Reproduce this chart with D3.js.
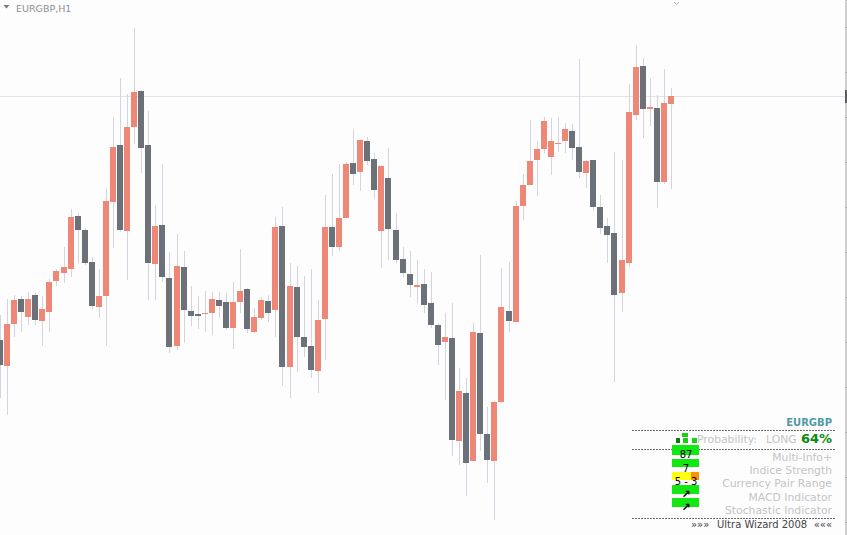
<!DOCTYPE html>
<html><head><meta charset="utf-8">
<script src="https://cdn.jsdelivr.net/npm/d3@7"></script>
<style>html,body{margin:0;padding:0;background:#fff;overflow:hidden}</style>
</head><body>
<svg id="chart" width="847" height="535"></svg>
<script>
// EURGBP H1 candles (price values)
const open  = [0.8660,0.8634,0.8676,0.8701,0.8683,0.8705,0.8679,0.8688,0.8719,0.8727,0.8731,0.8784,0.8770,0.8738,0.8693,0.8704,0.8798,0.8855,0.8769,0.8873,0.8909,0.8855,0.8736,0.8775,0.8722,0.8654,0.8733,0.8689,0.8686,0.8686,0.8687,0.8700,0.8698,0.8672,0.8698,0.8711,0.8668,0.8682,0.8699,0.8690,0.8774,0.8633,0.8713,0.8663,0.8654,0.8629,0.8681,0.8773,0.8753,0.8782,0.8837,0.8828,0.8859,0.8841,0.8769,0.8822,0.8770,0.8741,0.8726,0.8713,0.8716,0.8697,0.8675,0.8658,0.8662,0.8559,0.8607,0.8539,0.8667,0.8566,0.8539,0.8598,0.8689,0.8678,0.8794,0.8815,0.8840,0.8851,0.8843,0.8856,0.8859,0.8869,0.8853,0.8827,0.8840,0.8793,0.8774,0.8767,0.8707,0.8737,0.8885,0.8934,0.8891,0.8892,0.8818,0.8896];
const high  = [0.8685,0.8701,0.8705,0.8704,0.8708,0.8707,0.8704,0.8721,0.8731,0.8753,0.8791,0.8787,0.8772,0.8743,0.8731,0.8811,0.8883,0.8922,0.8906,0.8972,0.8910,0.8889,0.8795,0.8836,0.8748,0.8766,0.8749,0.8714,0.8704,0.8709,0.8708,0.8708,0.8707,0.8718,0.8751,0.8712,0.8692,0.8703,0.8705,0.8783,0.8793,0.8737,0.8734,0.8724,0.8731,0.8700,0.8805,0.8826,0.8836,0.8838,0.8871,0.8861,0.8863,0.8847,0.8835,0.8852,0.8787,0.8753,0.8749,0.8740,0.8731,0.8728,0.8677,0.8687,0.8697,0.8632,0.8622,0.8677,0.8745,0.8593,0.8599,0.8732,0.8738,0.8799,0.8826,0.8880,0.8859,0.8883,0.8882,0.8883,0.8877,0.8876,0.8941,0.8840,0.8840,0.8805,0.8782,0.8848,0.8840,0.8916,0.8955,0.8942,0.8922,0.8905,0.8931,0.8912];
const low   = [0.8602,0.8585,0.8663,0.8668,0.8675,0.8675,0.8654,0.8668,0.8714,0.8717,0.8723,0.8737,0.8735,0.8691,0.8682,0.8654,0.8752,0.8768,0.8720,0.8856,0.8827,0.8700,0.8700,0.8718,0.8647,0.8650,0.8657,0.8674,0.8671,0.8668,0.8665,0.8682,0.8670,0.8651,0.8687,0.8667,0.8667,0.8680,0.8678,0.8663,0.8614,0.8602,0.8628,0.8643,0.8622,0.8607,0.8640,0.8744,0.8749,0.8782,0.8815,0.8809,0.8835,0.8801,0.8732,0.8740,0.8737,0.8723,0.8703,0.8697,0.8687,0.8672,0.8635,0.8600,0.8544,0.8535,0.8504,0.8538,0.8549,0.8517,0.8480,0.8597,0.8668,0.8678,0.8780,0.8815,0.8804,0.8847,0.8825,0.8848,0.8847,0.8840,0.8822,0.8812,0.8789,0.8766,0.8737,0.8618,0.8688,0.8733,0.8880,0.8862,0.8874,0.8792,0.8816,0.8811];
const close = [0.8635,0.8676,0.8700,0.8688,0.8701,0.8680,0.8691,0.8718,0.8729,0.8733,0.8783,0.8770,0.8737,0.8694,0.8704,0.8799,0.8853,0.8770,0.8873,0.8908,0.8852,0.8737,0.8774,0.8723,0.8653,0.8734,0.8690,0.8684,0.8684,0.8687,0.8701,0.8694,0.8672,0.8698,0.8709,0.8671,0.8683,0.8700,0.8687,0.8773,0.8633,0.8714,0.8663,0.8653,0.8630,0.8680,0.8773,0.8753,0.8782,0.8836,0.8826,0.8860,0.8839,0.8810,0.8834,0.8771,0.8740,0.8727,0.8715,0.8715,0.8695,0.8675,0.8655,0.8663,0.8560,0.8609,0.8537,0.8668,0.8566,0.8540,0.8598,0.8693,0.8679,0.8794,0.8815,0.8839,0.8851,0.8879,0.8859,0.8857,0.8871,0.8852,0.8828,0.8839,0.8793,0.8772,0.8765,0.8705,0.8740,0.8888,0.8933,0.8891,0.8893,0.8818,0.8897,0.8904];
// right price axis ticks (their labels are outside the window in the reference)
const priceTicks = [0.8973,0.8928,0.8883,0.8838,0.8793,0.8748,0.8703,0.8658,0.8613,0.8568,0.8523,0.8478];
const bidPrice = 0.8904;
const symbolTitle = "EURGBP,H1";
// info panel
const panelSymbol = "EURGBP";
const probLabel = "Probability:";
const probSide = "LONG";
const probValue = "64%";
const panelRows = ["Multi-Info+","Indice Strength","Currency Pair Range","MACD Indicator","Stochastic Indicator"];
const panelBarLabels = ["87","7","5 - 3","\u2197","\u2197"];
const footer = ["\u00bb\u00bb\u00bb","Ultra Wizard 2008","\u00ab\u00ab\u00ab"];

const svg = d3.select("#chart");
svg.append("rect").attr("width",847).attr("height",535).attr("fill","#fdfdfe");

const n = open.length;
const x = d3.scaleLinear().domain([1, n-1]).range([7, 671]);
const y = d3.scaleLinear().domain([0.9, 0.8465]).range([0, 535]);

// bid line
svg.append("line").attr("x1",0).attr("x2",845).attr("y1",Math.round(y(bidPrice))+0.5).attr("y2",Math.round(y(bidPrice))+0.5)
  .attr("stroke","#e3e4ea").attr("stroke-width",1);

const idx = d3.range(n);
const g = svg.append("g");
g.selectAll("line.wick").data(idx).join("line").attr("class","wick")
  .attr("x1",i=>Math.round(x(i))+0.5).attr("x2",i=>Math.round(x(i))+0.5)
  .attr("y1",i=>y(high[i])).attr("y2",i=>y(low[i]))
  .attr("stroke","#d3d4de").attr("stroke-width",1);
g.selectAll("rect.body").data(idx).join("rect").attr("class","body")
  .attr("x",i=>Math.round(x(i))-3).attr("width",6)
  .attr("y",i=>y(Math.max(open[i],close[i])))
  .attr("height",i=>Math.max(1,Math.abs(y(open[i])-y(close[i]))))
  .attr("fill",i=>close[i]>=open[i]?"#ef8777":"#6b7079");

// right axis (labels fall outside the window, so none are drawn)
const axis = d3.axisRight(y).tickValues(priceTicks).tickSize(5).tickFormat("");
const ag = svg.append("g").attr("transform","translate(845.5,0)").call(axis);
ag.select(".domain").attr("stroke","#a0a0a0");
ag.selectAll(".tick line").attr("stroke","#a0a0a0");
svg.append("rect").attr("x",845).attr("y",y(bidPrice)-6).attr("width",10).attr("height",13).attr("fill","#5a5d63");

// title
svg.append("path").attr("d","M3.5,5 L9.5,5 L6.5,8.5 Z").attr("fill","#7a7a7a");
svg.append("text").attr("x",16).attr("y",12).text(symbolTitle)
  .style("font","9.5px 'DejaVu Sans'").attr("fill","#8e8e8e");
svg.append("path").attr("d","M674,2 L676.5,4.5 L679,2").attr("fill","none").attr("stroke","#b0b0b0");

// panel
const P = svg.append("g");
const R = 832;
P.append("text").attr("x",R).attr("y",426).attr("text-anchor","end").text(panelSymbol)
  .style("font","bold 10px 'DejaVu Sans'").attr("fill","#4f9aa2");
[430.5,449.5,518.5].forEach(yy=>P.append("line").attr("x1",632).attr("x2",835).attr("y1",yy).attr("y2",yy)
  .attr("stroke","#6a6a6a").attr("stroke-dasharray","2,1"));
P.append("text").attr("x",697).attr("y",443).text(probLabel).style("font","10.8px 'DejaVu Sans'").attr("fill","#c4c4c4");
P.append("text").attr("x",766).attr("y",443).text(probSide).style("font","10.8px 'DejaVu Sans'").attr("fill","#c4c4c4");
P.append("text").attr("x",R).attr("y",443).attr("text-anchor","end").text(probValue)
  .style("font","bold 13px 'DejaVu Sans'").attr("fill","#0b8a0b");
// small icon
[[682,433,6,4,"#18d018"],[676,438,4,5,"#0a7a0a"],[683,438,5,5,"#18d018"],[692,438,5,5,"#18d018"]]
  .forEach(d=>P.append("rect").attr("x",d[0]).attr("y",d[1]).attr("width",d[2]).attr("height",d[3]).attr("fill",d[4]));

const rowY = [460.7,474,487.3,500.7,514];
panelRows.forEach((t,k)=>P.append("text").attr("x",R).attr("y",rowY[k]).attr("text-anchor","end").text(t)
  .style("font","10.8px 'DejaVu Sans'").attr("fill","#c4c4c4"));
const barTop = [445,459,472,485,498];
const barH = [10,8,8,9,9];
barTop.forEach((t,k)=>{
  if(k===2){
    P.append("rect").attr("x",672).attr("y",t).attr("width",19).attr("height",barH[k]).attr("fill","#ffff10");
    P.append("rect").attr("x",691).attr("y",t).attr("width",8).attr("height",barH[k]).attr("fill","#ff9000");
  } else P.append("rect").attr("x",672).attr("y",t).attr("width",27).attr("height",barH[k]).attr("fill","#12e812");
});
const labY=[458,472,485,498,511];
panelBarLabels.forEach((t,k)=>P.append("text").attr("x",686).attr("y",labY[k]).attr("text-anchor","middle").text(t)
  .style("font",(k>=3?"bold 11px":"10px")+" 'DejaVu Sans'").attr("fill","#000"));

P.append("text").attr("x",691).attr("y",528).text(footer[0]).style("font","10px 'DejaVu Sans'").attr("fill","#444");
P.append("text").attr("x",717).attr("y",528).text(footer[1]).style("font","10px 'DejaVu Sans'").attr("fill","#444");
P.append("text").attr("x",R).attr("y",528).attr("text-anchor","end").text(footer[2]).style("font","10px 'DejaVu Sans'").attr("fill","#444");
</script>
</body></html>
